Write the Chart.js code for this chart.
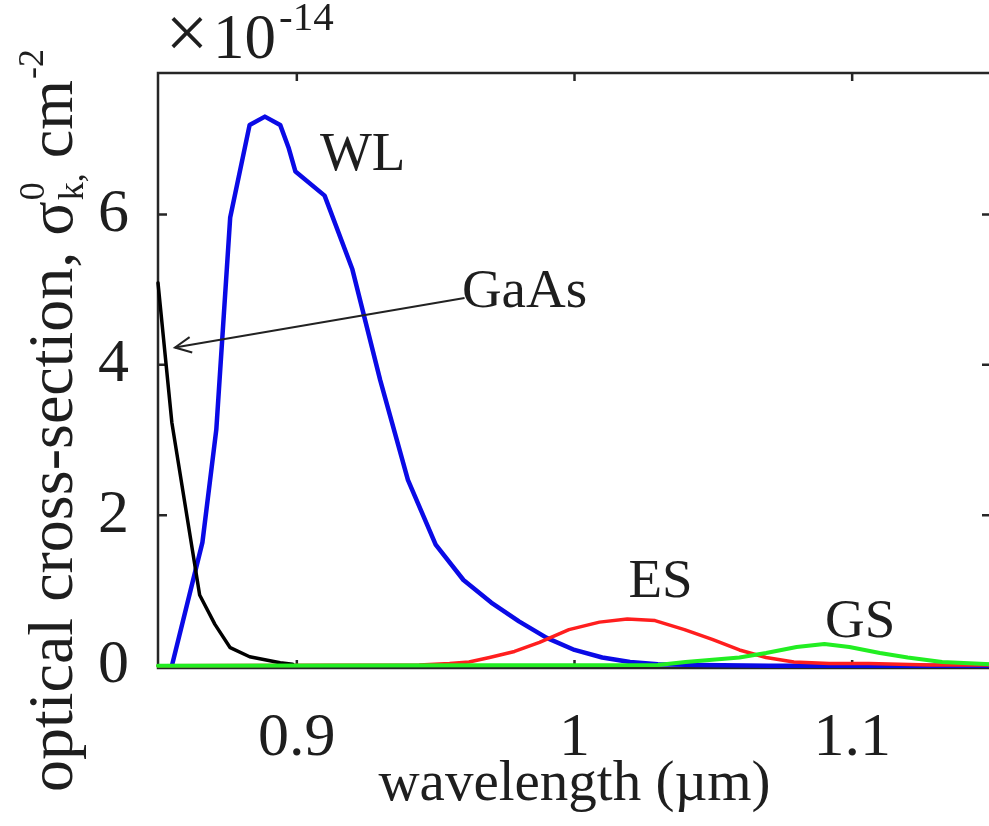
<!DOCTYPE html>
<html><head><meta charset="utf-8">
<script src="https://cdn.jsdelivr.net/npm/chart.js@4.4.0/dist/chart.umd.min.js"></script>
<style>
html,body{margin:0;padding:0;background:#fff;overflow:hidden;width:989px;height:826px}
#wrap{position:absolute;left:0;top:0;width:1000px;height:826px}
</style></head>
<body><div id="wrap"><canvas id="c" width="1000" height="826"></canvas></div>
<script>
// ---- data (wavelength in µm, cross-section in units of 1e-14 cm^-2) ----
const wlX = [0.855, 0.866, 0.871, 0.876, 0.883, 0.8885, 0.894, 0.897, 0.8995, 0.91, 0.92, 0.93, 0.94, 0.95, 0.96, 0.97, 0.98, 0.99, 1.0, 1.01, 1.02, 1.03, 1.045, 1.07, 1.10, 1.15];
const wlY = [0, 1.64, 3.14, 5.96, 7.19, 7.30, 7.19, 6.89, 6.57, 6.25, 5.27, 3.80, 2.47, 1.61, 1.14, 0.84, 0.59, 0.37, 0.21, 0.11, 0.05, 0.02, 0.01, 0, 0, 0];

const gaasX = [0.85, 0.855, 0.865, 0.8705, 0.876, 0.883, 0.8885, 0.894, 0.8985];
const gaasY = [5.09, 3.23, 0.94, 0.55, 0.24, 0.12, 0.08, 0.04, 0.02];

const esX = [0.85, 0.944, 0.955, 0.962, 0.9694, 0.9784, 0.9874, 0.998, 1.009, 1.019, 1.029, 1.0396, 1.0496, 1.0594, 1.069, 1.079, 1.0917, 1.106, 1.128, 1.15];
const esY = [0, 0.01, 0.03, 0.05, 0.11, 0.19, 0.31, 0.48, 0.58, 0.62, 0.60, 0.48, 0.35, 0.21, 0.11, 0.05, 0.03, 0.03, 0.01, 0.01];

const gsX = [0.85, 1.03, 1.04, 1.0594, 1.069, 1.08, 1.09, 1.099, 1.11, 1.12, 1.1324, 1.15];
const gsY = [0, 0.01, 0.05, 0.11, 0.17, 0.25, 0.29, 0.25, 0.17, 0.11, 0.05, 0.02];

const xTicks = [0.9, 1.0, 1.1];
const yTicks = [0, 2, 4, 6];

// annotation labels (data coordinates)
const labelText = ['WL', 'GaAs', 'ES', 'GS'];
const labelX = [0.9237, 0.982, 1.031, 1.1029];
const labelY = [6.78, 4.96, 1.1, 0.57];
// arrow from GaAs label to curve
const arrowFrom = [0.9604, 4.89];
const arrowTo = [0.8561, 4.23];

const FONT = '"Liberation Serif", "Times New Roman", serif';
const TXT = '#1e1e1e';
const AX = '#262626';

function pts(xs, ys) { return xs.map((x, i) => ({x: x, y: ys[i]})); }

const frame = {
  id: 'frame',
  beforeDatasetsDraw(chart) {
    const {ctx, chartArea: a, scales: {x, y}} = chart;
    ctx.save();
    ctx.strokeStyle = AX; ctx.lineWidth = 2.5;
    ctx.strokeRect(a.left, a.top, a.right - a.left, a.bottom - a.top);
    ctx.beginPath();
    xTicks.forEach(v => {
      const p = x.getPixelForValue(v);
      ctx.moveTo(p, a.bottom); ctx.lineTo(p, a.bottom - 8);
      ctx.moveTo(p, a.top); ctx.lineTo(p, a.top + 8);
    });
    yTicks.forEach(v => {
      const p = y.getPixelForValue(v);
      ctx.moveTo(a.left, p); ctx.lineTo(a.left + 9, p);
      ctx.moveTo(a.right, p); ctx.lineTo(a.right - 9, p);
    });
    ctx.stroke();
    ctx.restore();
  },
  afterDraw(chart) {
    const {ctx, chartArea: a, scales: {x, y}} = chart;
    ctx.save();
    ctx.fillStyle = TXT;
    // multiplier
    ctx.textBaseline = 'alphabetic'; ctx.textAlign = 'center';
    ctx.font = '76px ' + FONT;
    ctx.fillText('\u00d7', 187, 58);
    ctx.textAlign = 'left';
    ctx.font = '63px ' + FONT;
    ctx.fillText('10', 213, 58);
    const w10 = ctx.measureText('10').width;
    ctx.font = '41px ' + FONT;
    ctx.fillText('-14', 213 + w10 + 3, 30);

    // y-axis title (rotated) with sub/superscripts
    ctx.save();
    ctx.translate(0, 792);
    ctx.rotate(-Math.PI / 2);
    const base = 72;
    let cx = 0;
    ctx.font = '64px ' + FONT;
    const t1 = 'optical cross-section, \u03c3';
    ctx.fillText(t1, cx, base); cx += ctx.measureText(t1).width;
    ctx.font = '36px ' + FONT;
    ctx.fillText('k,', cx + 1, base + 11);
    const wk = ctx.measureText('k,').width;
    ctx.fillText('0', cx + 1, base - 28);
    const w0 = ctx.measureText('0').width;
    cx += Math.max(wk, w0);
    ctx.font = '64px ' + FONT;
    ctx.fillText(' cm', cx, base); cx += ctx.measureText(' cm').width;
    ctx.font = '36px ' + FONT;
    ctx.fillText('-2', cx + 1, base - 29);
    ctx.restore();

    // curve labels
    ctx.font = '55px ' + FONT;
    ctx.textAlign = 'center'; ctx.textBaseline = 'middle';
    labelText.forEach((t, i) => {
      ctx.fillText(t, x.getPixelForValue(labelX[i]), y.getPixelForValue(labelY[i]));
    });

    // arrow
    const x0 = x.getPixelForValue(arrowFrom[0]), y0 = y.getPixelForValue(arrowFrom[1]);
    const x1 = x.getPixelForValue(arrowTo[0]), y1 = y.getPixelForValue(arrowTo[1]);
    ctx.strokeStyle = '#222'; ctx.lineWidth = 2;
    ctx.beginPath(); ctx.moveTo(x0, y0); ctx.lineTo(x1, y1); ctx.stroke();
    const ang = Math.atan2(y0 - y1, x0 - x1);
    const L = 18, sp = 0.45;
    ctx.beginPath();
    ctx.moveTo(x1 + L * Math.cos(ang + sp), y1 + L * Math.sin(ang + sp));
    ctx.lineTo(x1, y1);
    ctx.lineTo(x1 + L * Math.cos(ang - sp), y1 + L * Math.sin(ang - sp));
    ctx.stroke();
    ctx.restore();
  }
};

new Chart(document.getElementById('c'), {
  type: 'line',
  data: {
    datasets: [
      {label: 'GS', data: pts(gsX, gsY), borderColor: '#22ee22', borderWidth: 4, order: 0},
      {label: 'GaAs', data: pts(gaasX, gaasY), borderColor: '#000000', borderWidth: 3.5, order: 1},
      {label: 'ES', data: pts(esX, esY), borderColor: '#ff1e1e', borderWidth: 3.5, order: 2},
      {label: 'WL', data: pts(wlX, wlY), borderColor: '#0a0ae6', borderWidth: 4.5, order: 3}
    ]
  },
  options: {
    responsive: false, animation: false, devicePixelRatio: 1,
    layout: {padding: {top: 73, right: 9, bottom: 0, left: 0}},
    elements: {point: {radius: 0}, line: {tension: 0, borderCapStyle: 'round', borderJoinStyle: 'round'}},
    datasets: {line: {clip: false, fill: false}},
    plugins: {legend: {display: false}, tooltip: {enabled: false}},
    scales: {
      x: {
        type: 'linear', min: 0.85, max: 1.15,
        grid: {display: false}, border: {display: false},
        afterFit(s) { s.height = 158; },
        afterBuildTicks(s) { s.ticks = xTicks.map(v => ({value: v})); },
        ticks: {font: {family: FONT, size: 62, lineHeight: 1}, color: TXT, padding: 32, autoSkip: false, maxRotation: 0,
                callback: (v) => String(v)},
        title: {display: true, text: 'wavelength (\u00b5m)', font: {family: FONT, size: 57, lineHeight: 1}, color: TXT,
                padding: {top: 0, bottom: 12}}
      },
      y: {
        type: 'linear', min: -0.03, max: 7.88,
        grid: {display: false}, border: {display: false},
        afterFit(s) { s.width = 158; },
        afterBuildTicks(s) { s.ticks = yTicks.map(v => ({value: v})); },
        ticks: {font: {family: FONT, size: 62, lineHeight: 1}, color: TXT, padding: 21, callback: (v) => String(v)}
      }
    }
  },
  plugins: [frame]
});
</script>
</body></html>
